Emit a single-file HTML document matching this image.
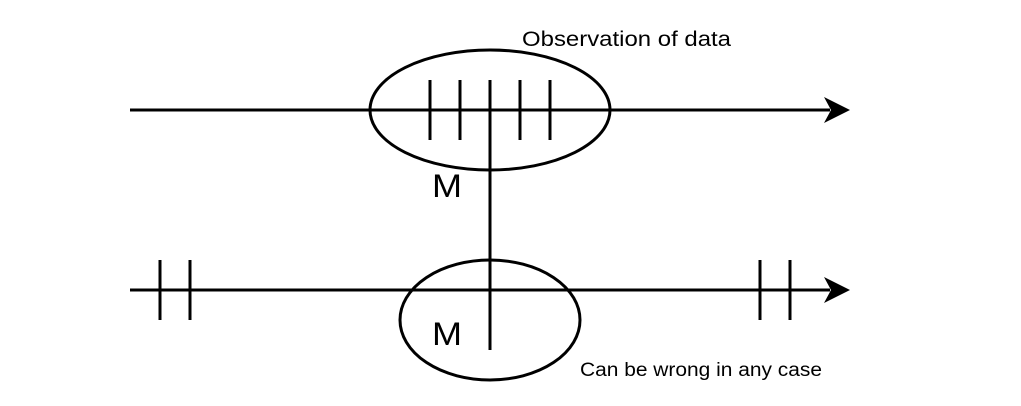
<!DOCTYPE html>
<html><head><meta charset="utf-8"><style>
html,body{margin:0;padding:0;background:#fff;}
svg{display:block;}
text{font-family:"Liberation Sans",sans-serif;fill:#000;}
</style></head><body>
<svg width="1021" height="406" viewBox="0 0 1021 406">
<g stroke="#000" stroke-width="3" fill="none">
<line x1="130" y1="110" x2="830" y2="110"/>
<line x1="130" y1="290" x2="830" y2="290"/>
<ellipse cx="490" cy="110" rx="120" ry="60"/>
<ellipse cx="490" cy="320" rx="90" ry="60"/>
<line x1="490" y1="80" x2="490" y2="350"/>
<g>
<line x1="430" y1="80" x2="430" y2="140"/><line x1="460" y1="80" x2="460" y2="140"/>
<line x1="520" y1="80" x2="520" y2="140"/><line x1="550" y1="80" x2="550" y2="140"/>
</g>
<g>
<line x1="160" y1="260" x2="160" y2="320"/><line x1="190" y1="260" x2="190" y2="320"/>
<line x1="760" y1="260" x2="760" y2="320"/><line x1="790" y1="260" x2="790" y2="320"/>
</g>
</g>
<polygon points="850,110 824,97 831,110 824,123" fill="#000"/>
<polygon points="850,290 824,277 831,290 824,303" fill="#000"/>
<text x="432" y="197" font-size="32" textLength="30" lengthAdjust="spacingAndGlyphs">M</text>
<text x="432" y="345" font-size="32" textLength="30" lengthAdjust="spacingAndGlyphs">M</text>
<text x="522" y="46" font-size="21" textLength="209" lengthAdjust="spacingAndGlyphs">Observation of data</text>
<text x="580" y="376" font-size="19" textLength="242" lengthAdjust="spacingAndGlyphs">Can be wrong in any case</text>
</svg>
</body></html>
